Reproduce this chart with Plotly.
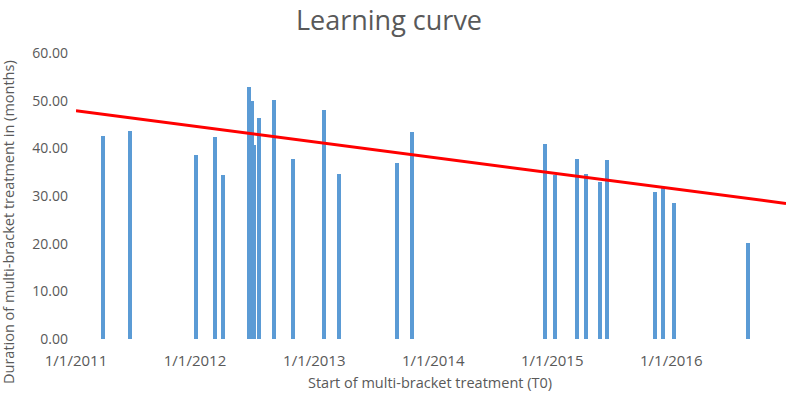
import numpy as np
import pandas as pd
import plotly.graph_objects as go

# Data
start_dates = [
    "2011-03-25", "2011-06-15", "2012-01-05", "2012-03-02", "2012-03-26",
    "2012-06-14", "2012-06-25", "2012-07-01", "2012-07-16", "2012-08-31",
    "2012-10-28", "2013-02-01", "2013-03-18", "2013-09-11", "2013-10-29",
    "2014-12-10", "2015-01-08", "2015-03-19", "2015-04-15", "2015-05-28",
    "2015-06-17", "2015-11-13", "2015-12-08", "2016-01-09", "2016-08-24",
]
durations = [
    42.6, 43.7, 38.7, 42.3, 34.4,
    52.9, 50.0, 40.6, 46.3, 50.1,
    37.7, 48.0, 34.7, 36.9, 43.4,
    40.9, 34.4, 37.7, 34.6, 33.0,
    37.5, 30.8, 31.8, 28.6, 20.1,
]
x_tick_dates = ["2011-01-01", "2012-01-01", "2013-01-01", "2014-01-01",
                "2015-01-01", "2016-01-01"]
x_tick_labels = ["1/1/2011", "1/1/2012", "1/1/2013", "1/1/2014",
                 "1/1/2015", "1/1/2016"]
y_tick_values = [0, 10, 20, 30, 40, 50, 60]
x_range = ["2011-01-01", "2016-12-18"]

title_text = "Learning curve"
x_title = "Start of multi-bracket treatment (T0)"
y_title = "Duration of multi-bracket treatment in (months)"

# Linear trend line (least squares on the date serials)
dts = pd.to_datetime(start_dates)
base = pd.Timestamp(x_range[0])
days = np.array([(d - base).days for d in dts], dtype=float)
slope, intercept = np.polyfit(days, np.array(durations), 1)
rng = pd.to_datetime(x_range)
rng_days = np.array([(d - base).days for d in rng], dtype=float)
trend_y = slope * rng_days + intercept

GRAY = "#595959"
FONT = "Open Sans"

W, H = 786, 393
L, R, T, B = 76, 0, 53, 54
PW, PH = W - L - R, H - T - B


def px_to_paper(px, py):
    return (px - L) / PW, (H - B - py) / PH


xt_x, xt_y = px_to_paper(430, 383)
yt_x, yt_y = px_to_paper(9, 222)

fig = go.Figure()
fig.add_trace(go.Bar(
    x=dts, y=durations,
    width=12 * 24 * 3600 * 1000,
    marker=dict(color="#5B9BD5", line=dict(width=0)),
    showlegend=False,
))
fig.add_trace(go.Scatter(
    x=rng, y=trend_y, mode="lines",
    line=dict(color="#FF0000", width=3),
    showlegend=False,
))

fig.update_layout(
    width=W, height=H,
    margin=dict(l=L, r=R, t=T, b=B),
    paper_bgcolor="white", plot_bgcolor="white",
    font=dict(family=FONT, color=GRAY, size=14),
    bargap=0,
    title=dict(text=title_text, x=389 / W, xanchor="center",
               y=1 - 21 / H, yanchor="middle",
               font=dict(family=FONT, size=27, color=GRAY)),
    xaxis=dict(
        type="date", range=x_range,
        tickvals=x_tick_dates, ticktext=x_tick_labels,
        showgrid=False, zeroline=False, showline=False, ticks="",
        tickfont=dict(size=15, color=GRAY),
        ticklabelstandoff=11,
    ),
    yaxis=dict(
        range=[0, 60], tickvals=y_tick_values,
        tickformat=".2f",
        showgrid=False, zeroline=False, showline=False, ticks="",
        tickfont=dict(size=14, color=GRAY),
        ticklabelstandoff=7,
    ),
    annotations=[
        dict(text=x_title, x=xt_x, y=xt_y,
             xref="paper", yref="paper", xanchor="center", yanchor="middle",
             showarrow=False, font=dict(size=14.5, color=GRAY, family=FONT)),
        dict(text=y_title, x=yt_x, y=yt_y,
             xref="paper", yref="paper", xanchor="center", yanchor="middle",
             textangle=-90,
             showarrow=False, font=dict(size=14.5, color=GRAY, family=FONT)),
    ],
)

fig.write_html(
    "out.html",
    config={"displayModeBar": False},
    post_script="document.body.style.margin='0';document.body.style.overflow='hidden';",
)
